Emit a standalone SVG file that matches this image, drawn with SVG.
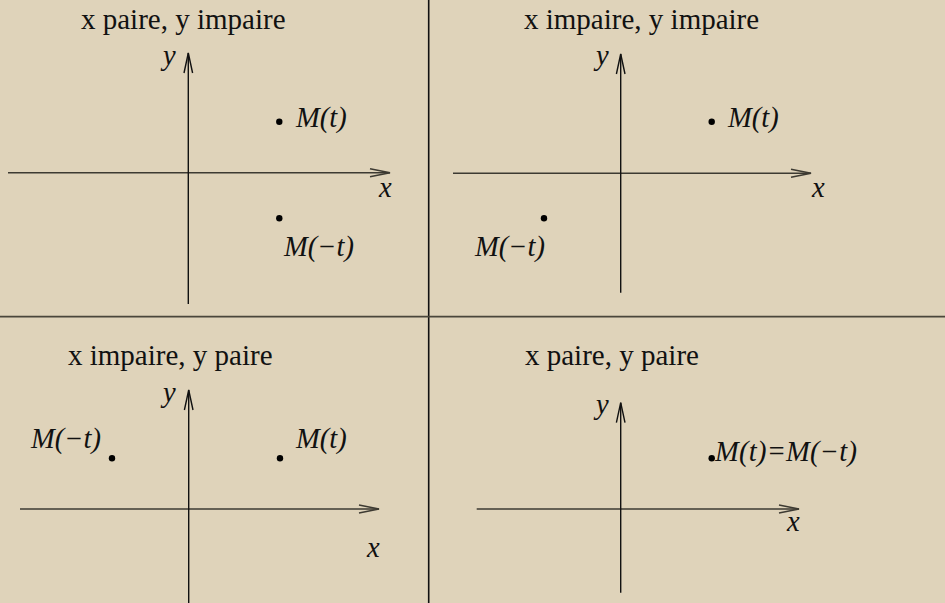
<svg xmlns="http://www.w3.org/2000/svg" width="945" height="603" viewBox="0 0 945 603">
<style>
.title{font-family:"Liberation Serif","Times New Roman",serif;font-size:29px;fill:#111}
.lab{font-family:"Liberation Serif","Times New Roman",serif;font-style:italic;font-size:28.5px;fill:#111}
.ax{stroke:#111;stroke-width:1.4;fill:none}
.axh{stroke:#3d3a32;stroke-width:1.6;fill:none}
.div{stroke:#111;stroke-width:1.6}
.divh{stroke:#4a463b;stroke-width:1.8}
.dot{fill:#000}
</style>
<rect width="945" height="603" fill="#DFD3BA"/>
<g id="dividers">
<line class="div" x1="428.7" y1="0" x2="428.7" y2="603"/>
<line class="divh" x1="0" y1="316.7" x2="945" y2="316.7"/>
</g>
<g id="connectors">
<line class="axh" x1="8" y1="172.7" x2="390" y2="172.7"/>
<polyline class="axh" points="370,168.7 390,172.7 370,176.7"/>
<line class="ax" x1="188.3" y1="304" x2="188.3" y2="53"/>
<polyline class="ax" points="184,73 188.3,53 192.6,73"/>
<line class="axh" x1="453" y1="173.3" x2="811" y2="173.3"/>
<polyline class="axh" points="791,169.3 811,173.3 791,177.3"/>
<line class="ax" x1="620.7" y1="292.7" x2="620.7" y2="54"/>
<polyline class="ax" points="616.4,74 620.7,54 625,74"/>
<line class="axh" x1="20" y1="509" x2="379" y2="509"/>
<polyline class="axh" points="359,505 379,509 359,513"/>
<line class="ax" x1="188.7" y1="603" x2="188.7" y2="390"/>
<polyline class="ax" points="184.4,410 188.7,390 193,410"/>
<line class="axh" x1="476.7" y1="509" x2="799" y2="509"/>
<polyline class="axh" points="779,505 799,509 779,513"/>
<line class="ax" x1="620.7" y1="592.7" x2="620.7" y2="402.7"/>
<polyline class="ax" points="616.4,422.7 620.7,402.7 625,422.7"/>
</g>
<g id="panel1">
<text class="title" x="81" y="29">x paire, y impaire</text>
<text class="lab" x="163" y="65">y</text>
<text class="lab" x="379" y="197">x</text>
<circle class="dot" cx="279.3" cy="121.7" r="3.2"/>
<text class="lab" x="296" y="127">M(t)</text>
<circle class="dot" cx="279.3" cy="218.3" r="3.2"/>
<text class="lab" x="284" y="256">M(−t)</text>
</g>
<g id="panel2">
<text class="title" x="524" y="29">x impaire, y impaire</text>
<text class="lab" x="596" y="65">y</text>
<text class="lab" x="812" y="197">x</text>
<circle class="dot" cx="711.7" cy="121.7" r="3.2"/>
<text class="lab" x="728" y="127">M(t)</text>
<circle class="dot" cx="544" cy="218.3" r="3.2"/>
<text class="lab" x="475" y="256">M(−t)</text>
</g>
<g id="panel3">
<text class="title" x="68" y="365">x impaire, y paire</text>
<text class="lab" x="163" y="402">y</text>
<text class="lab" x="367" y="557">x</text>
<circle class="dot" cx="112" cy="458.3" r="3.2"/>
<text class="lab" x="31" y="448">M(−t)</text>
<circle class="dot" cx="280" cy="458.3" r="3.2"/>
<text class="lab" x="296" y="448">M(t)</text>
</g>
<g id="panel4">
<text class="title" x="525" y="365">x paire, y paire</text>
<text class="lab" x="596" y="414">y</text>
<text class="lab" x="787" y="531">x</text>
<circle class="dot" cx="711.7" cy="458.3" r="3.2"/>
<text class="lab" x="715" y="461" textLength="142" lengthAdjust="spacing">M(t)=M(−t)</text>
</g>
</svg>
